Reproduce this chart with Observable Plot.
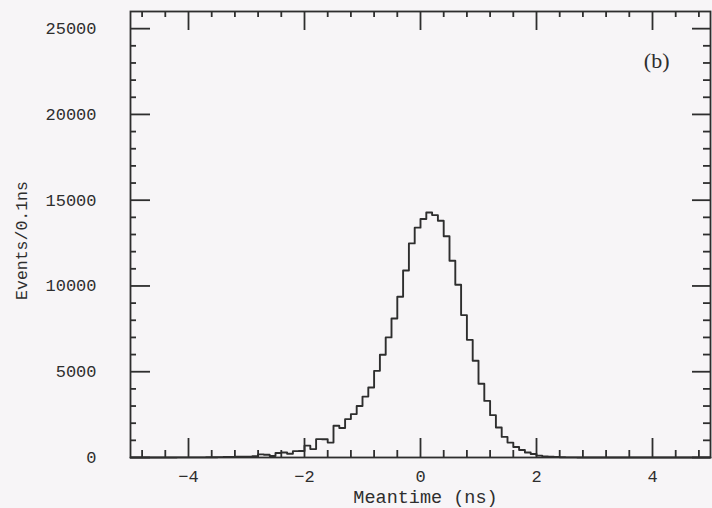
<!DOCTYPE html>
<html><head><meta charset="utf-8">
<script src="https://cdn.jsdelivr.net/npm/d3@7"></script>
<script src="https://cdn.jsdelivr.net/npm/@observablehq/plot@0.6"></script>
<style>
html,body{margin:0;padding:0;background:#f7f5f7;}
#chart svg{display:block;background:#f7f5f7;}
</style></head><body><div id="chart"></div>
<script>
// Left edges of the 0.1 ns bins (ns)
const binStart = [
  -5.0,-4.9,-4.8,-4.7,-4.6,-4.5,-4.4,-4.3,-4.2,-4.1,
  -4.0,-3.9,-3.8,-3.7,-3.6,-3.5,-3.4,-3.3,-3.2,-3.1,
  -3.0,-2.9,-2.8,-2.7,-2.6,-2.5,-2.4,-2.3,-2.2,-2.1,
  -2.0,-1.9,-1.8,-1.7,-1.6,-1.5,-1.4,-1.3,-1.2,-1.1,
  -1.0,-0.9,-0.8,-0.7,-0.6,-0.5,-0.4,-0.3,-0.2,-0.1,
   0.0, 0.1, 0.2, 0.3, 0.4, 0.5, 0.6, 0.7, 0.8, 0.9,
   1.0, 1.1, 1.2, 1.3, 1.4, 1.5, 1.6, 1.7, 1.8, 1.9,
   2.0, 2.1, 2.2, 2.3, 2.4, 2.5, 2.6, 2.7, 2.8, 2.9,
   3.0, 3.1, 3.2, 3.3, 3.4, 3.5, 3.6, 3.7, 3.8, 3.9,
   4.0, 4.1, 4.2, 4.3, 4.4, 4.5, 4.6, 4.7, 4.8, 4.9
];
// Events per 0.1 ns bin
const counts = [
  0,0,0,0,0,0,0,0,5,5,
  5,10,10,15,15,20,25,30,40,45,
  50,70,180,160,90,260,290,220,370,380,
  690,490,1070,1060,870,1850,1720,2240,2530,3000,
  3550,4080,5050,5990,7000,8100,9370,10900,12480,13400,
  13900,14280,14130,13800,12900,11470,10070,8300,6860,5640,
  4300,3300,2470,1750,1200,870,610,440,290,200,
  110,60,40,25,15,10,5,0,0,0,
  0,0,0,0,0,0,0,0,0,0,
  0,0,0,0,0,0,0,0,0,0
];
const binEnd = 5.0;

const xMajorTicks = [-4, -2, 0, 2, 4];
const xMinorTicks = [-4.8,-4.4,-3.6,-3.2,-2.8,-2.4,-1.6,-1.2,-0.8,-0.4,0.4,0.8,1.2,1.6,2.4,2.8,3.2,3.6,4.4,4.8];
const yMajorTicks = [0, 5000, 10000, 15000, 20000, 25000];
const yMinorTicks = [1000,2000,3000,4000,6000,7000,8000,9000,11000,12000,13000,14000,16000,17000,18000,19000,21000,22000,23000,24000];

const xLabel = "Meantime (ns)";
const yLabel = "Events/0.1ns";
const panelLabel = "(b)";

const table = binStart.map((x, i) => ({x, y: counts[i]}));
table.push({x: binEnd, y: counts[counts.length - 1]});

const W = 712, H = 508;
const mL = 130, mR = 2, mT = 11, mB = 51;
const pW = W - mL - mR, pH = H - mT - mB;
const yMax = 26000;
const ink = "#2e2e2e";
const sw = 1.8;
const mono = "Liberation Mono, DejaVu Sans Mono, monospace";
const px2y = (p) => p / pH * yMax; // tick length in y units

const chart = Plot.plot({
  width: W, height: H,
  marginLeft: mL, marginRight: mR, marginTop: mT, marginBottom: mB,
  style: {background: "#f7f5f7", color: ink, fontFamily: mono},
  x: {domain: [-5, 5]},
  y: {domain: [0, yMax]},
  marks: [
    Plot.frame({stroke: ink, strokeWidth: sw}),
    // bottom ticks (inward)
    Plot.ruleX(xMajorTicks, {y1: 0, y2: px2y(19), stroke: ink, strokeWidth: sw}),
    Plot.ruleX(xMinorTicks, {y1: 0, y2: px2y(7), stroke: ink, strokeWidth: sw}),
    // top ticks (inward)
    Plot.ruleX(xMajorTicks, {insetBottom: pH - 19, stroke: ink, strokeWidth: sw}),
    Plot.ruleX(xMinorTicks, {insetBottom: pH - 6, stroke: ink, strokeWidth: sw}),
    // left & right ticks (inward)
    Plot.ruleY(yMajorTicks, {insetRight: pW - 20, stroke: ink, strokeWidth: sw}),
    Plot.ruleY(yMajorTicks, {insetLeft: pW - 18, stroke: ink, strokeWidth: sw}),
    Plot.ruleY(yMinorTicks, {insetRight: pW - 6, stroke: ink, strokeWidth: sw}),
    Plot.ruleY(yMinorTicks, {insetLeft: pW - 7, stroke: ink, strokeWidth: sw}),
    // histogram outline
    Plot.line(table, {x: "x", y: "y", curve: "step-after", stroke: ink, strokeWidth: 1.9}),
    // tick labels
    Plot.axisX(xMajorTicks, {tickSize: 0, tickPadding: 12, label: null, fontSize: 17, fontFamily: mono, fill: ink}),
    Plot.axisY(yMajorTicks, {tickSize: 0, tickPadding: 34, label: null, tickFormat: d => String(d), fontSize: 17, fontFamily: mono, fill: ink}),
    // axis titles
    Plot.text([xLabel], {frameAnchor: "bottom", dx: 5, dy: 40, fontSize: 18.5, fontFamily: mono, fill: ink, lineAnchor: "middle"}),
    Plot.text([yLabel], {frameAnchor: "left", rotate: -90, dx: -109, dy: 6, textAnchor: "middle", lineAnchor: "middle", fontSize: 16.5, fontFamily: mono, fill: ink}),
    Plot.text([panelLabel], {frameAnchor: "top-right", dx: -41, dy: 41, textAnchor: "end", lineAnchor: "top", fontSize: 22, fontFamily: "Liberation Serif, DejaVu Serif, serif", fill: ink})
  ]
});
document.getElementById("chart").appendChild(chart);
</script>
</body></html>
